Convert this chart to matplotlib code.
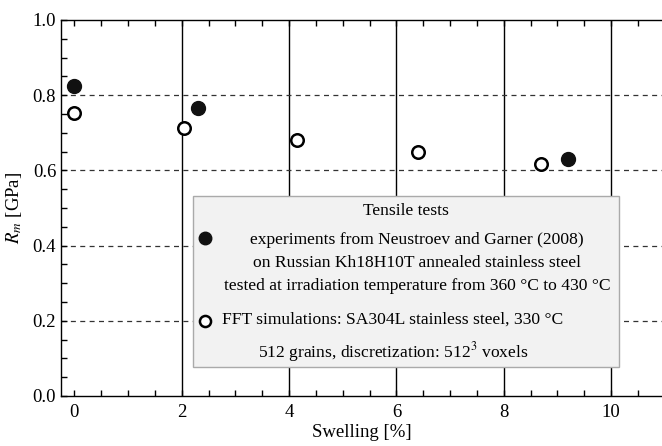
import matplotlib
matplotlib.use("Agg")
import matplotlib.pyplot as plt
from matplotlib.patches import Rectangle
from matplotlib.lines import Line2D

plt.rcParams['font.family'] = ['Liberation Serif', 'DejaVu Serif']
plt.rcParams['mathtext.fontset'] = 'stix'

exp_swelling = [0.0, 2.3, 9.2]
exp_rm = [0.825, 0.765, 0.630]
fft_swelling = [0.0, 2.05, 4.15, 6.4, 8.7]
fft_rm = [0.752, 0.714, 0.680, 0.648, 0.618]

xticks = [0, 2, 4, 6, 8, 10]
yticks = [0.0, 0.2, 0.4, 0.6, 0.8, 1.0]

fig = plt.figure(figsize=(6.62, 4.46), dpi=100)
ax = fig.add_axes([61/662, 1-396/446, 1-61/662, (396-20)/446])
ax.set_xlim(-0.25, 10.95)
ax.set_ylim(0, 1.0)

for x in xticks[1:]:
    ax.axvline(x, color='black', lw=1.0, zorder=1)
for y in yticks[1:-1]:
    ax.axhline(y, color='#333333', lw=0.9, ls=(0, (4, 3.5)), zorder=1)

ax.plot(exp_swelling, exp_rm, 'o', ms=10, mfc='#111111', mec='#111111', zorder=3, clip_on=False)
ax.plot(fft_swelling, fft_rm, 'o', ms=9, mfc='white', mec='black', mew=1.8, zorder=3, clip_on=False)

ax.set_xticks(xticks)
ax.set_yticks(yticks)
ax.set_xticks([i*0.5 for i in range(0, 22)], minor=True)
ax.set_yticks([i*0.05 for i in range(0, 21)], minor=True)
ax.set_yticklabels(['0.0', '0.2', '0.4', '0.6', '0.8', '1.0'])
ax.tick_params(which='both', direction='in', top=True, right=False, labelsize=13.5, length=4, width=1)
ax.tick_params(axis='x', pad=6)
ax.spines['right'].set_visible(False)
for s in ['left', 'bottom', 'top']:
    ax.spines[s].set_linewidth(1.0)

ax.set_xlabel('Swelling [%]', fontsize=13.5, labelpad=2)
ax.set_ylabel('$R_m$ [GPa]', fontsize=13.5, labelpad=6)

# legend box (pixel coordinates -> axes fraction)
def px(x, y):
    return ((x-61)/(662-61), (396-y)/(396-20))

x0, y0 = px(193, 367)
x1, y1 = px(619, 196)
ax.add_patch(Rectangle((x0, y0), x1-x0, y1-y0, transform=ax.transAxes,
                       facecolor='#f2f2f2', edgecolor='#aaaaaa', lw=1.0, zorder=5))
fs = 12.6
ax.text(*px(406, 211), 'Tensile tests', transform=ax.transAxes, ha='center', va='center', fontsize=fs, zorder=6)
ax.text(*px(417, 263), 'experiments from Neustroev and Garner (2008)\non Russian Kh18H10T annealed stainless steel\ntested at irradiation temperature from 360 °C to 430 °C',
        transform=ax.transAxes, ha='center', va='center', ma='center', fontsize=fs, linespacing=1.6, zorder=6)
ax.text(*px(393, 338), 'FFT simulations: SA304L stainless steel, 330 °C\n512 grains, discretization: 512$^3$ voxels',
        transform=ax.transAxes, ha='center', va='center', ma='center', fontsize=fs, linespacing=1.7, zorder=6)
mx, my = px(205, 238)
ax.add_line(Line2D([mx], [my], marker='o', ms=9, mfc='#111111', mec='#111111', transform=ax.transAxes, zorder=7))
mx, my = px(205, 321)
ax.add_line(Line2D([mx], [my], marker='o', ms=8, mfc='white', mec='black', mew=1.8, transform=ax.transAxes, zorder=7))

fig.savefig('out.png', dpi=100)
